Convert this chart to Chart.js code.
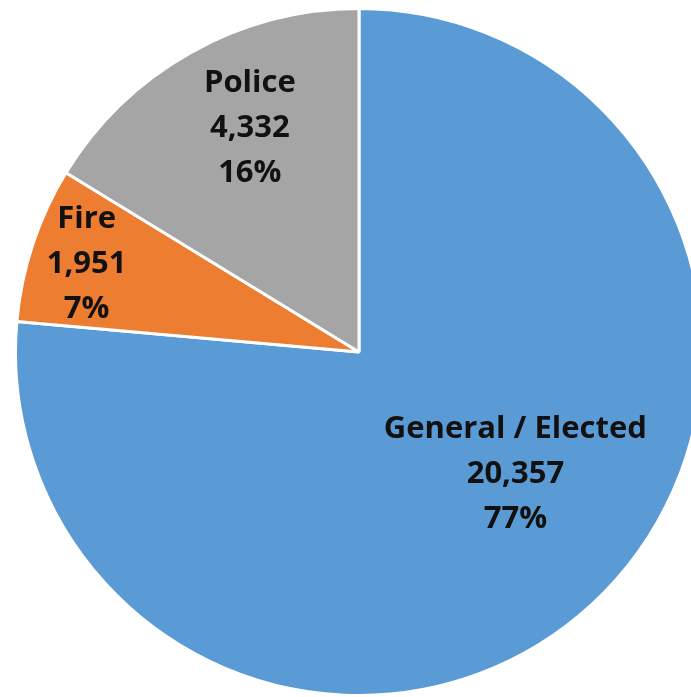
<!DOCTYPE html>
<html>
<head>
<meta charset="utf-8">
<script src="https://cdn.jsdelivr.net/npm/chart.js@4"></script>
<style>
    html, body { margin: 0; padding: 0; background: #fff; overflow: hidden; width: 691px; height: 697px; }
    #wrap { position: absolute; left: 14px; top: 7px; width: 690px; height: 690px; }
</style>
</head>
<body>
<div id="wrap"><canvas id="pieChart"></canvas></div>
<script>
const categories = ["General / Elected", "Fire", "Police"];
const members = [20357, 1951, 4332];
const sliceColors = ["#5B9BD5", "#ED7D31", "#A5A5A5"];

// label placement per slice: angle shift from the slice middle (deg) and fraction of radius
const labelPlace = [
    { shift: -9.9, frac: 0.575 },
    { shift: 0, frac: 0.835 },
    { shift: 3.5, frac: 0.731 }
];

const total = members.reduce((a, b) => a + b, 0);

// whole percents that add up to 100 (largest remainder)
const shares = members.map(v => v / total * 100);
const pct = shares.map(Math.floor);
let left = 100 - pct.reduce((a, b) => a + b, 0);
shares.map((s, i) => [s - Math.floor(s), i])
    .sort((a, b) => b[0] - a[0])
    .slice(0, left)
    .forEach(([, i]) => pct[i] += 1);

const sliceLabels = {
    id: "sliceLabels",
    afterDatasetsDraw(chart) {
        const ctx = chart.ctx;
        const meta = chart.getDatasetMeta(0);
        ctx.save();
        ctx.font = "bold 31px 'Open Sans'";
        ctx.fillStyle = "#111";
        ctx.textAlign = "center";
        ctx.textBaseline = "middle";
        meta.data.forEach((arc, i) => {
            const p = arc.getProps(["x", "y", "startAngle", "endAngle", "outerRadius"], true);
            const mid = (p.startAngle + p.endAngle) / 2 + labelPlace[i].shift * Math.PI / 180;
            const r = p.outerRadius * labelPlace[i].frac;
            const cx = p.x + Math.cos(mid) * r;
            const cy = p.y + Math.sin(mid) * r + 2;
            const lines = [
                categories[i],
                members[i].toLocaleString("en-US"),
                pct[i] + "%"
            ];
            lines.forEach((txt, k) => ctx.fillText(txt, cx, cy + (k - 1) * 45));
        });
        ctx.restore();
    }
};

new Chart(document.getElementById("pieChart"), {
    type: "pie",
    data: {
        labels: categories,
        datasets: [{
            data: members,
            backgroundColor: sliceColors,
            borderColor: "#fff",
            borderWidth: 3
        }]
    },
    options: {
        responsive: true,
        maintainAspectRatio: false,
        animation: false,
        layout: { padding: 0 },
        plugins: {
            legend: { display: false },
            tooltip: { enabled: false }
        }
    },
    plugins: [sliceLabels]
});
</script>
</body>
</html>
